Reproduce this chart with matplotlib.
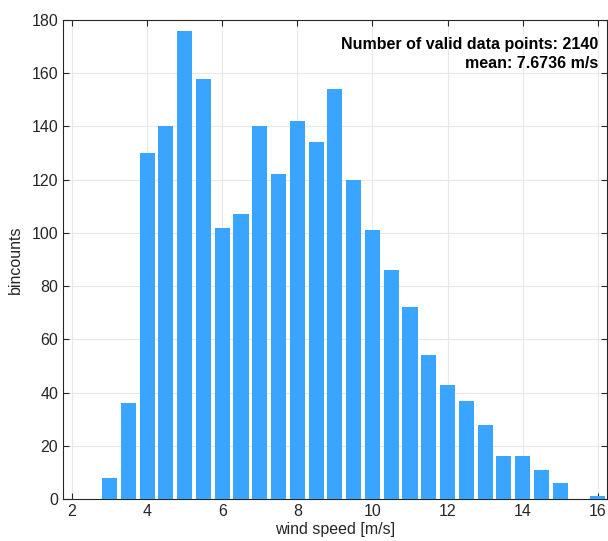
import matplotlib
matplotlib.use("Agg")
import matplotlib.pyplot as plt

plt.rcParams['font.family'] = ['Liberation Sans', 'DejaVu Sans']

speeds = [3.0, 3.5, 4.0, 4.5, 5.0, 5.5, 6.0, 6.5, 7.0, 7.5, 8.0, 8.5, 9.0, 9.5,
          10.0, 10.5, 11.0, 11.5, 12.0, 12.5, 13.0, 13.5, 14.0, 14.5, 15.0, 15.5, 16.0]
counts = [8, 36, 130, 140, 176, 158, 102, 107, 140, 122, 142, 134, 154, 120,
          101, 86, 72, 54, 43, 37, 28, 16, 16, 11, 6, 0, 1]
xticks = [2, 4, 6, 8, 10, 12, 14, 16]
yticks = [0, 20, 40, 60, 80, 100, 120, 140, 160, 180]

fig = plt.figure(figsize=(6.08, 5.41), dpi=100)
ax = fig.add_axes([0.1036, 0.0776, 0.8944, 0.8854])
ax.bar(speeds, counts, width=0.4, color='#3AA5FF', zorder=3)
ax.set_xlim(1.76, 16.24)
ax.set_ylim(0, 180)
ax.set_xticks(xticks)
ax.set_yticks(yticks)
ax.grid(True, color='#e8e8e8', linewidth=0.8, zorder=0)
ax.tick_params(direction='in', top=True, right=True, labelsize=11.5, colors='#262626', length=4)
for s in ax.spines.values():
    s.set_color('#262626')
    s.set_linewidth(0.8)
ax.set_xlabel('wind speed [m/s]', fontsize=11.5, color='#262626', labelpad=2)
ax.set_ylabel('bincounts', fontsize=11.5, color='#262626', labelpad=6)
ax.text(0.985, 0.965, 'Number of valid data points: 2140\nmean: 7.6736 m/s',
        transform=ax.transAxes, ha='right', va='top', fontsize=11.5,
        fontweight='bold', color='black', linespacing=1.35, zorder=5)
fig.savefig('out.png', dpi=100)
